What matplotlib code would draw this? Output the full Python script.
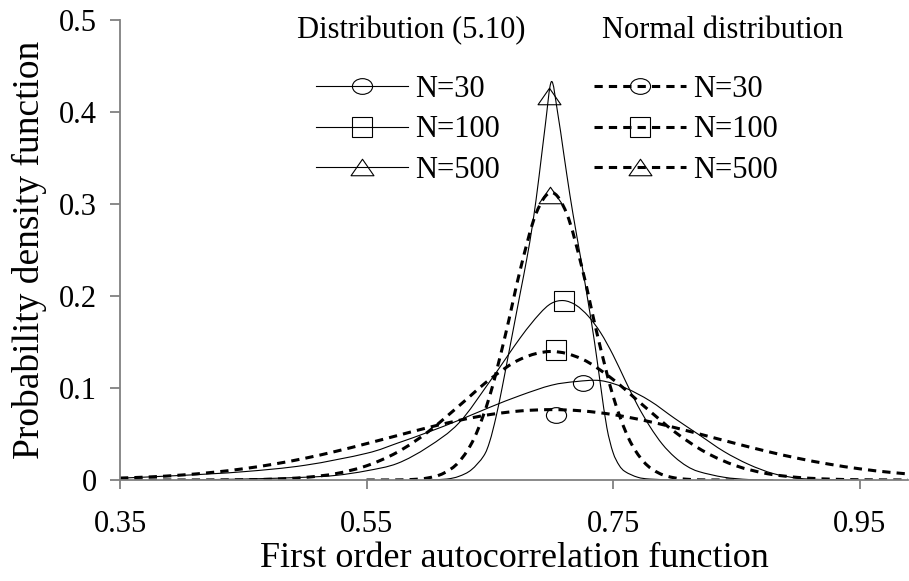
import numpy as np
import matplotlib
matplotlib.use("Agg")
import matplotlib.pyplot as plt
from matplotlib.path import Path
from matplotlib.patches import PathPatch
from matplotlib.lines import Line2D

plt.rcParams['font.family'] = ['Liberation Serif', 'DejaVu Serif']

# ---- data ----
# normal distribution curves
x_norm = [0.35, 0.375, 0.40, 0.425, 0.45, 0.475, 0.50, 0.525, 0.55, 0.575, 0.60, 0.625, 0.65, 0.675,
          0.70, 0.725, 0.75, 0.775, 0.80, 0.825, 0.85, 0.875, 0.90, 0.925, 0.95, 0.975, 1.0]
norm_30 = [0.0021, 0.0034, 0.0054, 0.0083, 0.0122, 0.0173, 0.0236, 0.0311, 0.0395, 0.0483, 0.0570, 0.0648,
           0.0711, 0.0751, 0.0765, 0.0751, 0.0711, 0.0648, 0.0570, 0.0483, 0.0395, 0.0311, 0.0236, 0.0173,
           0.0122, 0.0083, 0.0054]
norm_100 = [0.0, 0.0, 0.0, 0.0001, 0.0003, 0.0010, 0.0028, 0.0069, 0.0154, 0.0302, 0.0524, 0.0805, 0.1093,
            0.1314, 0.1397, 0.1314, 0.1093, 0.0805, 0.0524, 0.0302, 0.0154, 0.0069, 0.0028, 0.0010, 0.0003,
            0.0001, 0.0]
x_norm500 = [0.55, 0.5625, 0.575, 0.5875, 0.60, 0.6125, 0.625, 0.6375, 0.65, 0.6625, 0.675, 0.6875, 0.70,
             0.7125, 0.725, 0.7375, 0.75, 0.7625, 0.775, 0.7875, 0.80, 0.8125, 0.825, 0.8375, 0.85]
norm_500 = [0.0, 0.00003, 0.0001, 0.0006, 0.0023, 0.0073, 0.0197, 0.0458, 0.0915, 0.1566, 0.2299, 0.2894,
            0.3125, 0.2894, 0.2299, 0.1566, 0.0915, 0.0458, 0.0197, 0.0073, 0.0023, 0.0006, 0.0001, 0.00003, 0.0]

# distribution (5.10) curves
x_d30 = [0.35, 0.40, 0.45, 0.50, 0.55, 0.575, 0.60, 0.625, 0.65, 0.675, 0.70, 0.72, 0.74, 0.76, 0.78,
         0.80, 0.82, 0.84, 0.86, 0.88, 0.90, 0.92, 0.95]
d_30 = [0.002, 0.005, 0.009, 0.016, 0.029, 0.040, 0.052, 0.065, 0.079, 0.092, 0.103, 0.107, 0.108, 0.100,
        0.086, 0.067, 0.049, 0.031, 0.017, 0.007, 0.002, 0.0005, 0.0]
x_d100 = [0.40, 0.45, 0.50, 0.525, 0.55, 0.575, 0.60, 0.625, 0.65, 0.675, 0.69, 0.70, 0.71, 0.72, 0.73,
          0.74, 0.75, 0.76, 0.77, 0.78, 0.79, 0.80, 0.81, 0.82, 0.84, 0.86, 0.88]
d_100 = [0.0, 0.001, 0.003, 0.005, 0.010, 0.018, 0.036, 0.062, 0.107, 0.155, 0.180, 0.192, 0.195, 0.190,
         0.178, 0.160, 0.136, 0.108, 0.081, 0.058, 0.039, 0.025, 0.015, 0.009, 0.003, 0.0005, 0.0]
x_d500 = [0.60, 0.615, 0.625, 0.635, 0.645, 0.65, 0.655, 0.66, 0.665, 0.67, 0.675, 0.68, 0.685, 0.69, 0.695,
          0.70, 0.705, 0.71, 0.715, 0.72, 0.725, 0.73, 0.735, 0.74, 0.745, 0.75, 0.755, 0.76, 0.77, 0.78, 0.80]
d_500 = [0.0, 0.001, 0.004, 0.011, 0.026, 0.042, 0.068, 0.100, 0.135, 0.170, 0.205, 0.240, 0.280, 0.330,
         0.385, 0.433, 0.400, 0.355, 0.310, 0.270, 0.232, 0.192, 0.150, 0.102, 0.057, 0.030, 0.016, 0.009,
         0.003, 0.001, 0.0]

# one marker per curve
mark_d = [(0.726, 0.105), (0.710, 0.195), (0.698, 0.417)]
mark_n = [(0.704, 0.071), (0.704, 0.141), (0.699, 0.310)]
labels = ['N=30', 'N=100', 'N=500']

# hollow markers (slightly flattened circle and triangle, as in the original)
_c = Path.unit_circle()
ellipse = Path(_c.vertices * [1.0, 0.78], _c.codes)
triangle = Path([(-1, -0.72), (1, -0.72), (0, 0.72), (-1, -0.72)], closed=True)
markers = [ellipse, 's', triangle]
msizes = [14.5, 14, 16.5]

solid_lw = 0.8
dash_lw = 2.2
dash_ls = (0, (2.7, 2.0))


def smooth_path(xs, ys):
    # Excel-like smoothed line (Catmull-Rom as cubic Bezier)
    p = np.column_stack([xs, ys]).astype(float)
    n = len(p)
    verts = [p[0]]
    codes = [Path.MOVETO]
    for i in range(n - 1):
        p0 = p[i - 1] if i > 0 else p[i]
        p3 = p[i + 2] if i + 2 < n else p[i + 1]
        verts += [p[i] + (p[i + 1] - p0) / 6, p[i + 1] - (p3 - p[i]) / 6, p[i + 1]]
        codes += [Path.CURVE4] * 3
    return Path(verts, codes)


fig = plt.figure(figsize=(9.09, 5.81), dpi=100)
ax = fig.add_axes([120 / 909, 101 / 581, 788 / 909, 460 / 581])

for xs, ys in [(x_d30, d_30), (x_d100, d_100), (x_d500, d_500)]:
    ax.add_patch(PathPatch(smooth_path(xs, ys), fill=False, edgecolor='black', lw=solid_lw))
for xs, ys in [(x_norm, norm_30), (x_norm, norm_100), (x_norm500, norm_500)]:
    ax.add_patch(PathPatch(smooth_path(xs, ys), fill=False, edgecolor='black', lw=dash_lw,
                           linestyle=dash_ls))

for (mx, my), m, s in zip(mark_d + mark_n, markers * 2, msizes * 2):
    ax.plot([mx], [my], ls='none', marker=m, ms=s, mfc='none', mec='black', mew=0.8)

ax.set_xlim(0.35, 0.35 + 788 / 1232.5)
ax.set_ylim(0, 0.5)
ax.set_xticks([0.35, 0.55, 0.75, 0.95])
ax.set_xticklabels(['0.35', '0.55', '0.75', '0.95'])
ax.set_yticks([0, 0.1, 0.2, 0.3, 0.4, 0.5])
ax.set_yticklabels(['0', '0.1', '0.2', '0.3', '0.4', '0.5'])
for side in ['top', 'right']:
    ax.spines[side].set_visible(False)
for side in ['left', 'bottom']:
    ax.spines[side].set_color('#808080')
    ax.spines[side].set_linewidth(1.3)
ax.tick_params(direction='out', width=1.3, color='#808080', labelsize=22)
ax.tick_params(axis='x', length=6.5, pad=15)
ax.tick_params(axis='y', length=7.5, pad=9)
ax.set_xlabel('First order autocorrelation function', fontsize=26, labelpad=2)
ax.set_ylabel('Probability density function', fontsize=27, labelpad=9)

# legends
h_d = [Line2D([], [], color='black', lw=solid_lw, marker=m, ms=s, mfc='none', mec='black', mew=0.8)
       for m, s in zip(markers, msizes)]
h_n = [Line2D([], [], color='black', lw=dash_lw, ls=dash_ls, marker=m, ms=s, mfc='none', mec='black',
              mew=0.8) for m, s in zip(markers, msizes)]
leg_kw = dict(loc='upper left', frameon=False, fontsize=22, numpoints=1, handlelength=3.0,
              handletextpad=0.25, labelspacing=0.37, borderpad=0, borderaxespad=0)
leg1 = fig.legend(h_d, labels, bbox_to_anchor=(316 / 909, 1 - 75 / 581), **leg_kw)
leg2 = fig.legend(h_n, labels, bbox_to_anchor=(594 / 909, 1 - 75 / 581), **leg_kw)

fig.text(411 / 909, 1 - 31 / 581, 'Distribution (5.10)', fontsize=22, ha='center', va='center')
fig.text(723 / 909, 1 - 31 / 581, 'Normal distribution', fontsize=22, ha='center', va='center')

fig.savefig('out.png', dpi=100)
